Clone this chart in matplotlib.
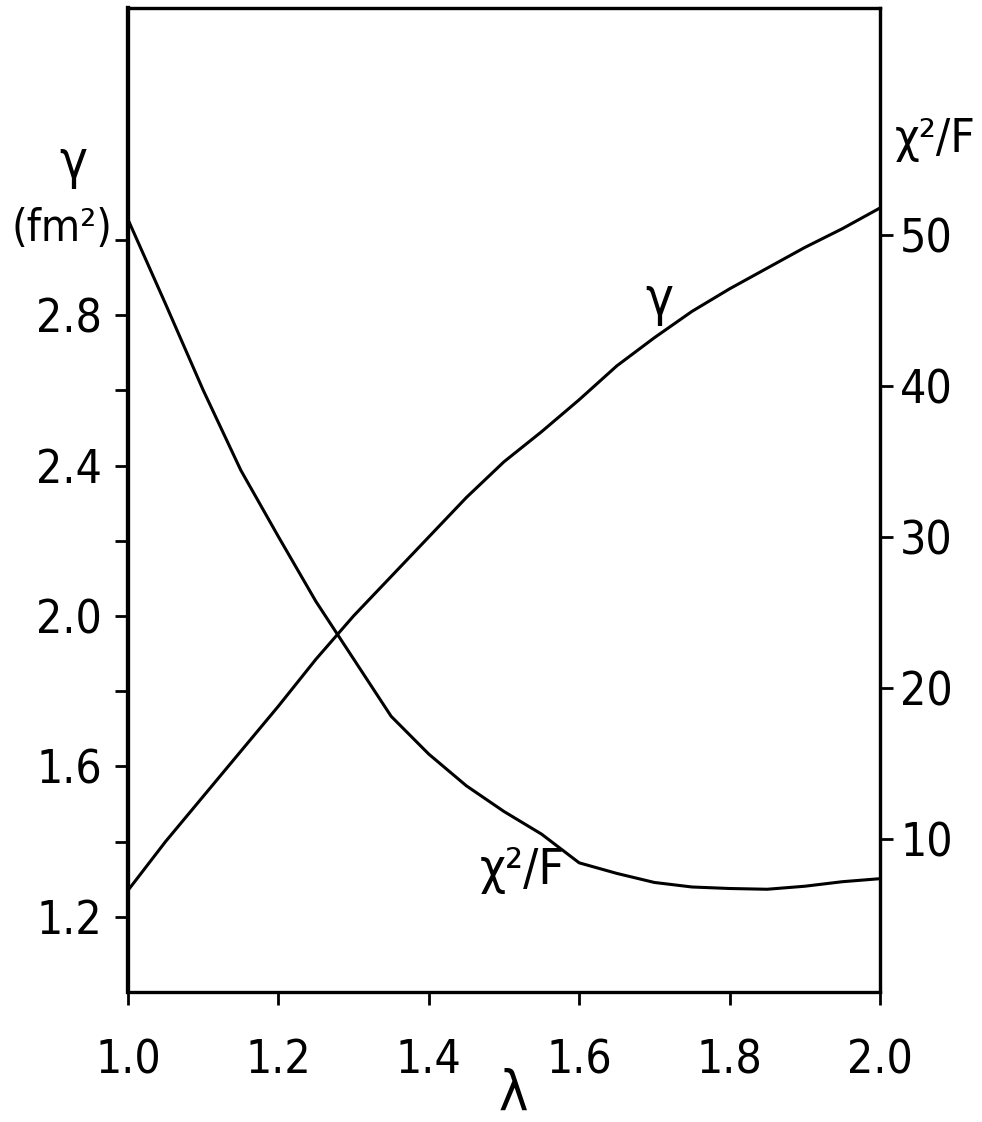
import matplotlib
matplotlib.use('Agg')
import matplotlib.pyplot as plt
from matplotlib import font_manager
import numpy as np

# narrow font if one is installed, else condensed DejaVu
names = {f.name for f in font_manager.fontManager.ttflist}
stretches = {(f.name, f.stretch) for f in font_manager.fontManager.ttflist}
if 'Liberation Sans Narrow' in names:
    plt.rcParams['font.family'] = ['Liberation Sans Narrow', 'DejaVu Sans']
    fs_scale = 1.0
elif ('DejaVu Sans', 'condensed') in stretches or ('DejaVu Sans', 600) in stretches:
    plt.rcParams['font.family'] = ['DejaVu Sans']
    plt.rcParams['font.stretch'] = 'condensed'
    fs_scale = 0.95
else:
    plt.rcParams['font.family'] = ['DejaVu Sans']
    fs_scale = 0.9

# lambda grid and the two curves
lam = [1.00, 1.05, 1.10, 1.15, 1.20, 1.25, 1.30, 1.35, 1.40, 1.45, 1.50,
       1.55, 1.60, 1.65, 1.70, 1.75, 1.80, 1.85, 1.90, 1.95, 2.00]
gamma = [1.27, 1.40, 1.52, 1.64, 1.76, 1.885, 2.00, 2.105, 2.21, 2.315, 2.41,
         2.49, 2.575, 2.665, 2.74, 2.81, 2.87, 2.925, 2.98, 3.03, 3.085]
chi2f = [51.0, 45.4, 39.7, 34.4, 30.0, 25.7, 21.9, 18.1, 15.6, 13.5, 11.8,
         10.3, 8.4, 7.7, 7.1, 6.8, 6.7, 6.65, 6.85, 7.15, 7.35]

x_ticks = [1.0, 1.2, 1.4, 1.6, 1.8, 2.0]
x_labels = ['1.0', '1.2', '1.4', '1.6', '1.8', '2.0']
g_ticks = [1.2, 1.6, 2.0, 2.4, 2.8]
g_labels = ['1.2', '1.6', '2.0', '2.4', '2.8']
g_minor = [1.4, 1.8, 2.2, 2.6, 3.0]
c_ticks = [10, 20, 30, 40, 50]
c_labels = ['10', '20', '30', '40', '50']

fig = plt.figure(figsize=(9.82, 11.22), dpi=100)
ax = fig.add_axes([0.1303, 0.1159, 0.7658, 0.877])
ax2 = ax.twinx()

ax.plot(lam, gamma, color='black', lw=2.2, solid_capstyle='butt')
ax2.plot(lam, chi2f, color='black', lw=2.2, solid_capstyle='butt')

ax.set_xlim(1.0, 2.0)
ax.set_ylim(1.0, 3.617)
ax2.set_ylim(-0.15, 65.0)

ax.set_xticks(x_ticks)
ax.set_xticklabels(x_labels)
ax.set_yticks(g_ticks)
ax.set_yticklabels(g_labels)
ax.set_yticks(g_minor, minor=True)
ax2.set_yticks(c_ticks)
ax2.set_yticklabels(c_labels)

fs = 35 * fs_scale
ax.tick_params(axis='x', direction='out', length=9.5, width=2, pad=24, labelsize=fs)
ax.tick_params(axis='y', which='both', direction='out', length=9.5, width=2, pad=9, labelsize=fs)
ax2.tick_params(axis='y', direction='out', length=9.5, width=2, pad=5, labelsize=fs)

for a in (ax, ax2):
    for s in a.spines.values():
        s.set_linewidth(2.3)
        s.set_color('black')
ax.spines['left'].set_linewidth(3.0)
ax2.spines['left'].set_linewidth(3.0)
ax.spines['bottom'].set_color('#444444')

# axis titles
ax.text(-0.073, 0.8425, 'γ', transform=ax.transAxes, ha='center', va='center', fontsize=40 * fs_scale)
ax.text(-0.088, 0.776, '(fm²)', transform=ax.transAxes, ha='center', va='center', fontsize=34 * fs_scale)
ax.text(1.073, 0.866, 'χ²/F', transform=ax.transAxes, ha='center', va='center', fontsize=36 * fs_scale)
ax.text(0.512, -0.105, 'λ', transform=ax.transAxes, ha='center', va='center', fontsize=42 * fs_scale)

# curve labels
ax.text(1.707, 2.84, 'γ', ha='center', va='center', fontsize=40 * fs_scale)
ax2.text(1.524, 7.9, 'χ²/F', ha='center', va='center', fontsize=38 * fs_scale)

fig.savefig('out.png', dpi=100)
